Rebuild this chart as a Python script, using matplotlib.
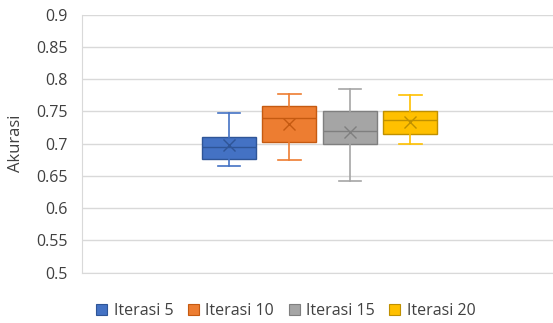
import matplotlib
matplotlib.use("Agg")
import matplotlib.pyplot as plt
from matplotlib.patches import Patch

# Accuracy summary per iteration count
labels = ["Iterasi 5", "Iterasi 10", "Iterasi 15", "Iterasi 20"]
whisker_low = [0.665, 0.675, 0.642, 0.699]
q1 = [0.676, 0.702, 0.700, 0.715]
median = [0.695, 0.739, 0.720, 0.736]
mean = [0.697, 0.731, 0.718, 0.734]
q3 = [0.710, 0.758, 0.750, 0.750]
whisker_high = [0.748, 0.776, 0.785, 0.775]

yticks = [0.5, 0.55, 0.6, 0.65, 0.7, 0.75, 0.8, 0.85, 0.9]
ytick_labels = ["0.5", "0.55", "0.6", "0.65", "0.7", "0.75", "0.8", "0.85", "0.9"]

colors = ["#4472C4", "#ED7D31", "#A5A5A5", "#FFC000"]
dark = ["#2F5597", "#C55A11", "#7F7F7F", "#BF9000"]

plt.rcParams["font.family"] = ["Open Sans", "DejaVu Sans"]

fig = plt.figure(figsize=(5.53, 3.23), dpi=100)
ax = fig.add_axes([0.1474, 0.1563, 0.8526, 0.7988])

stats = []
for i, lab in enumerate(labels):
    stats.append(dict(label=lab, whislo=whisker_low[i], q1=q1[i], med=median[i],
                      q3=q3[i], whishi=whisker_high[i], mean=mean[i], fliers=[]))

center, step, width = 0.505, 0.1283, 0.1145
positions = [center + (i - 1.5) * step for i in range(len(labels))]

for i, st in enumerate(stats):
    ax.bxp([st], positions=[positions[i]], widths=width, patch_artist=True,
           showmeans=True, meanline=False, showfliers=False,
           boxprops=dict(facecolor=colors[i], edgecolor=dark[i], linewidth=1.0),
           whiskerprops=dict(color=colors[i], linewidth=1.2),
           capprops=dict(color=colors[i], linewidth=1.2),
           capwidths=width * 0.42,
           medianprops=dict(color=dark[i], linewidth=1.0),
           meanprops=dict(marker="x", markeredgecolor=dark[i], markersize=8,
                          markeredgewidth=1.0),
           zorder=3)

ax.set_xlim(0, 1)
ax.set_ylim(0.5, 0.9)
ax.set_yticks(yticks)
ax.set_yticklabels(ytick_labels, fontsize=11.5, color="#404040")
ax.set_xticks([])
ax.grid(axis="y", color="#D9D9D9", linewidth=1.0, zorder=0)
ax.tick_params(axis="y", length=0, pad=10)
for side in ["top", "right"]:
    ax.spines[side].set_visible(False)
ax.spines["left"].set_color("#D9D9D9")
ax.spines["bottom"].set_color("#D9D9D9")
ax.set_ylabel("Akurasi", fontsize=12, color="#404040")
ax.yaxis.set_label_coords(-0.121, 0.5)

handles = [Patch(facecolor=c, edgecolor=d, linewidth=0.8) for c, d in zip(colors, dark)]
fig.legend(handles, labels, loc="center", bbox_to_anchor=(0.517, 0.036), ncol=4,
           frameon=False, fontsize=11.5, handlelength=0.7, handleheight=0.7,
           handletextpad=0.4, columnspacing=0.9, labelcolor="#404040")

fig.savefig("out.png", dpi=100)
